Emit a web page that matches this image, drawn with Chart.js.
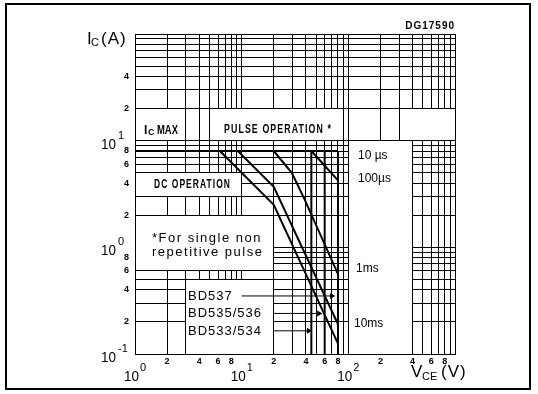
<!DOCTYPE html>
<html>
<head>
<meta charset="utf-8">
<script src="https://cdn.jsdelivr.net/npm/chart.js@4.4.1/dist/chart.umd.min.js"></script>
<style>
  html, body { margin: 0; background: #fff; }
  canvas { display: block; }
</style>
</head>
<body>
<canvas id="soa" width="538" height="394"></canvas>
<script>
// axis ranges (V, A)
const vRange = [1, 1000]
const iRange = [0.1, 100]
const gridDigits = [1, 2, 3, 4, 5, 6, 7, 8, 9]
const xLabelDigits = [2, 4, 6, 8]
const yLabelDigits = [2, 4, 6, 8]
const yTopDecadeDigits = [2, 4]

// Ic max, also the 10 us limit
const icMaxV = [1, 80]
const icMaxI = [8, 8]
// DC operation
const dcV = [6.25, 20, 80]
const dcI = [8, 2.5, 0.125]
// 10 ms pulse
const ms10V = [9.2, 20, 80]
const ms10I = [8, 3.7, 0.19]
// 1 ms pulse
const ms1V = [20, 29.5, 39, 80]
const ms1I = [8, 5, 2.8, 0.56]
// 100 us pulse
const us100V = [45, 80]
const us100I = [8, 4.25]
// VCEO limits: BD533/534, BD535/536, BD537
const vceoV = [45, 60, 80]
const vceoI = [8, 0.1]

// type-number pointers
const arrowI = [0.35, 0.24, 0.165]
const arrowFromV = [10, 20, 20]
const arrowToV = [70, 53, 42.5]

// blank label panels, in V and A
const panelV = [[1, 3], [5, 90], [300, 1000], [100, 400], [1, 10], [1, 20], [3, 20]]
const panelI = [[10, 20], [10, 20], [10, 20], [0.1, 10], [3, 5], [0.6, 2], [0.1, 0.5]]

function decadeValues([lo, hi]) {
  const out = []
  for (let e = Math.round(Math.log10(lo)); e < Math.round(Math.log10(hi)); e++) {
    gridDigits.forEach(d => out.push(Number((d * Math.pow(10, e)).toPrecision(3))))
  }
  out.push(hi)
  return out
}

function digitOf(v) {
  const e = Math.floor(Math.log10(v) + 1e-9)
  return Math.round(v / Math.pow(10, e))
}

const pts = (vs, is) => vs.map((v, k) => ({ x: v, y: is[k] }))

const curve = (data, width = 2) => ({
  data, borderColor: "#000", borderWidth: width, pointRadius: 0, fill: false, tension: 0
})

const datasets = [
  curve(pts(icMaxV, icMaxI)),
  curve(pts(dcV, dcI)),
  curve(pts(ms10V, ms10I)),
  curve(pts(ms1V, ms1I)),
  curve(pts(us100V, us100I)),
  ...vceoV.map(v => curve(pts([v, v], vceoI))),
  ...arrowI.map((a, k) => ({
    ...curve(pts([arrowFromV[k], arrowToV[k]], [a, a]), 1),
    pointRadius: [0, 3.5],
    pointStyle: "triangle",
    rotation: 90,
    pointBackgroundColor: "#000",
    pointBorderColor: "#000",
    pointBorderWidth: 0
  }))
]

const align = p => Math.round(p - 0.5) + 0.5

const panelsPlugin = {
  id: "panels",
  beforeDatasetsDraw(chart) {
    const { ctx, scales: { x, y } } = chart
    ctx.save()
    ctx.lineWidth = 1
    ctx.strokeStyle = "#000"
    ctx.fillStyle = "#fff"
    panelV.forEach((pv, k) => {
      const l = align(x.getPixelForValue(pv[0]))
      const r = align(x.getPixelForValue(pv[1]))
      const t = align(y.getPixelForValue(panelI[k][1]))
      const b = align(y.getPixelForValue(panelI[k][0]))
      ctx.fillRect(l, t, r - l, b - t)
      ctx.strokeRect(l, t, r - l, b - t)
    })
    ctx.restore()
  }
}

const NARROW = "'Liberation Sans Narrow', 'Liberation Sans', Arial, sans-serif"

function text(ctx, str, px, py, font, opts = {}) {
  ctx.font = font
  ctx.textAlign = opts.align || "left"
  ctx.textBaseline = "middle"
  ctx.letterSpacing = opts.spacing || "0px"
  if (opts.maxWidth) ctx.fillText(str, px, py, opts.maxWidth)
  else ctx.fillText(str, px, py)
}

const labelsPlugin = {
  id: "labels",
  afterDraw(chart) {
    const { ctx, scales: { x, y } } = chart
    ctx.save()
    ctx.fillStyle = "#000"

    // minor digit labels
    const small = "bold 9px Arial, sans-serif"
    decadeValues(vRange).forEach(v => {
      if (v < vRange[1] && xLabelDigits.includes(digitOf(v))) {
        text(ctx, String(digitOf(v)), x.getPixelForValue(v), 362, small, { align: "center" })
      }
    })
    decadeValues(iRange).forEach(v => {
      const digits = v >= 10 ? yTopDecadeDigits : yLabelDigits
      if (v < iRange[1] && digits.includes(digitOf(v))) {
        text(ctx, String(digitOf(v)), 129, y.getPixelForValue(v), small, { align: "right" })
      }
    })

    // decade labels
    ;[1, 10, 100].forEach((v, k) => {
      const px = x.getPixelForValue(v)
      text(ctx, "10", px + 4, 377, `15px ${NARROW}`, { align: "right", maxWidth: 15 })
      text(ctx, String(k), px + 5, 368, `11px ${NARROW}`)
    })
    ;[0.1, 1, 10].forEach((v, k) => {
      const py = y.getPixelForValue(v)
      text(ctx, "10", 116, py + 4, `15px ${NARROW}`, { align: "right", maxWidth: 15 })
      text(ctx, String(k - 1), 118, py - 5, `11px ${NARROW}`)
    })

    // axis titles
    text(ctx, "I", 87, 39, `17px ${NARROW}`)
    text(ctx, "C", 91, 43, `11px ${NARROW}`)
    text(ctx, "(A)", 101, 39, `17px ${NARROW}`, { spacing: "1px" })
    text(ctx, "V", 411, 372, `17px ${NARROW}`)
    text(ctx, "CE", 422, 377, `11px ${NARROW}`)
    text(ctx, "(V)", 441, 372, `17px ${NARROW}`, { spacing: "1px" })

    text(ctx, "DG17590", 455, 26, `bold 10px ${NARROW}`, { align: "right", spacing: "1px" })

    // panel texts
    text(ctx, "I", 144, 131, `bold 12px ${NARROW}`)
    text(ctx, "C", 148, 133, `bold 9px ${NARROW}`)
    text(ctx, "MAX", 157, 131, `bold 12px ${NARROW}`, { maxWidth: 21 })
    text(ctx, "PULSE OPERATION *", 224, 130, `bold 12px ${NARROW}`, { spacing: "1.5px", maxWidth: 108 })
    text(ctx, "DC OPERATION", 154, 185, `bold 12px ${NARROW}`, { spacing: "1.5px", maxWidth: 77 })
    text(ctx, "*For single non", 152, 238, `13px Arial, sans-serif`, { spacing: "1.5px" })
    text(ctx, "repetitive pulse", 152, 252, `13px Arial, sans-serif`, { spacing: "1.5px" })
    text(ctx, "BD537", 188, 296, `13px Arial, sans-serif`, { spacing: "1px" })
    text(ctx, "BD535/536", 188, 313, `13px Arial, sans-serif`, { spacing: "1px" })
    text(ctx, "BD533/534", 188, 331, `13px Arial, sans-serif`, { spacing: "1px" })
    text(ctx, "10 \u00b5s", 358, 156, `12px Arial, sans-serif`)
    text(ctx, "100\u00b5s", 358, 179, `12px Arial, sans-serif`)
    text(ctx, "1ms", 356, 269, `12px Arial, sans-serif`)
    text(ctx, "10ms", 354, 324, `12px Arial, sans-serif`)

    // outer frame
    ctx.lineWidth = 2
    ctx.strokeStyle = "#000"
    ctx.strokeRect(6, 4, 524, 385)
    ctx.restore()
  }
}

const gridOpts = { color: "#000", lineWidth: 1, drawTicks: false }

new Chart(document.getElementById("soa"), {
  type: "line",
  data: { datasets },
  options: {
    responsive: false,
    animation: false,
    layout: { padding: { left: 135, right: 83, top: 34, bottom: 40 } },
    plugins: { legend: { display: false }, tooltip: { enabled: false } },
    scales: {
      x: {
        type: "logarithmic",
        min: vRange[0],
        max: vRange[1],
        afterBuildTicks: s => { s.ticks = decadeValues(vRange).map(value => ({ value })) },
        afterFit: s => { s.height = 0 },
        grid: gridOpts,
        border: { color: "#000", width: 1 },
        ticks: { display: false, autoSkip: false }
      },
      y: {
        type: "logarithmic",
        min: iRange[0],
        max: iRange[1],
        afterBuildTicks: s => { s.ticks = decadeValues(iRange).map(value => ({ value })) },
        afterFit: s => { s.width = 0 },
        grid: gridOpts,
        border: { color: "#000", width: 1 },
        ticks: { display: false, autoSkip: false }
      }
    }
  },
  plugins: [panelsPlugin, labelsPlugin]
})
</script>
</body>
</html>
